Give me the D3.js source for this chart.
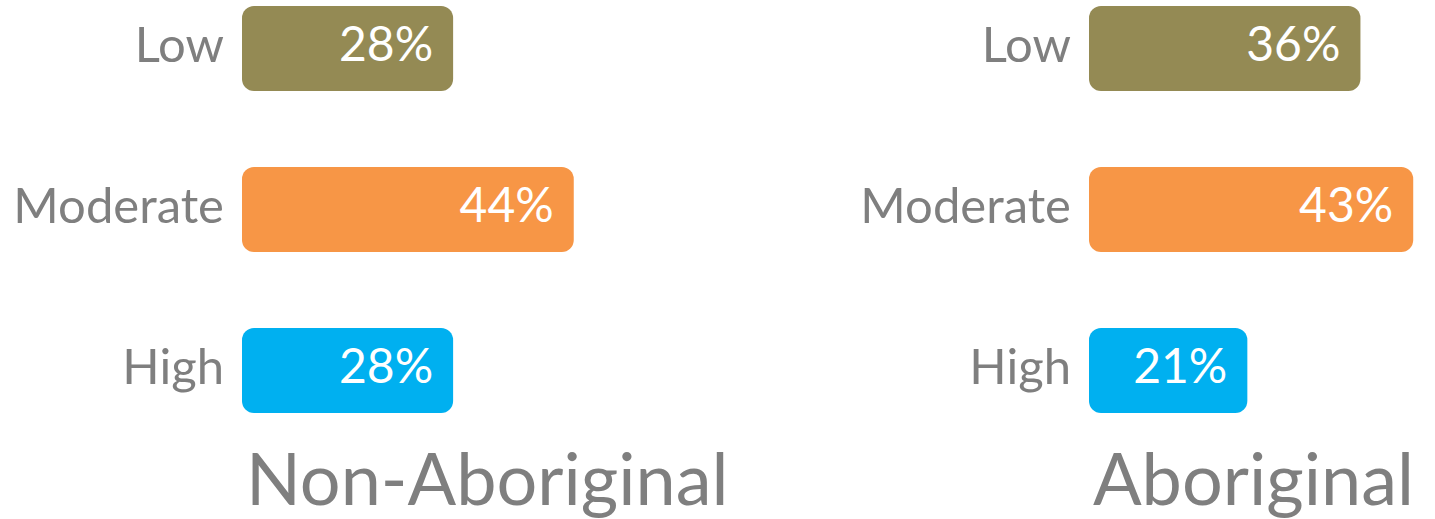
<!DOCTYPE html>
<html>
<head>
<meta charset="utf-8">
<script src="https://cdn.jsdelivr.net/npm/d3@7"></script>
<style>
  body { margin: 0; background: #fff; }
  text { font-family: Lato, "Open Sans", sans-serif; }
</style>
</head>
<body>
<div id="chart"></div>
<script>
// data
const levels = ["Low", "Moderate", "High"];
const groups = ["Non-Aboriginal", "Aboriginal"];
const nonAboriginal = [28, 44, 28];
const aboriginal = [36, 43, 21];
const colors = ["#948A54", "#F79646", "#00B0F0"];

const width = 1435,
    height = 519;

const svg = d3.select("#chart")
    .append("svg")
    .attr("width", width)
    .attr("height", height);

// one px-per-percent scale shared by both panels
const x = d3.scaleLinear()
    .domain([0, 50])
    .range([0, 377]);

const y = d3.scaleBand()
    .domain(levels)
    .range([6, 413])
    .paddingInner(0.472)
    .paddingOuter(0);

const color = d3.scaleOrdinal()
    .domain(levels)
    .range(colors);

const panels = [
    {name: groups[0], values: nonAboriginal, left: 242},
    {name: groups[1], values: aboriginal, left: 1089}
];

panels.forEach(function(p) {
    const g = svg.append("g")
        .attr("transform", `translate(${p.left},0)`);

    const rows = g.selectAll(".row")
        .data(levels.map((l, i) => ({level: l, value: p.values[i]})))
        .enter()
        .append("g")
        .attr("class", "row");

    rows.append("rect")
        .attr("x", 0)
        .attr("y", d => y(d.level))
        .attr("width", d => x(d.value))
        .attr("height", y.bandwidth())
        .attr("rx", 12)
        .attr("ry", 12)
        .style("fill", d => color(d.level));

    // category labels
    rows.append("text")
        .attr("x", -18)
        .attr("y", d => y(d.level) + y.bandwidth() / 2)
        .attr("dy", "0.27em")
        .attr("text-anchor", "end")
        .attr("font-size", "49px")
        .style("fill", "#7F7F7F")
        .text(d => d.level);

    // value labels inside bars
    rows.append("text")
        .attr("x", d => x(d.value) - 20)
        .attr("y", d => y(d.level) + y.bandwidth() / 2)
        .attr("dy", "0.27em")
        .attr("text-anchor", "end")
        .attr("font-size", "48px")
        .style("fill", "#fff")
        .text(d => d.value + "%");

    // panel title
    g.append("text")
        .attr("x", 4)
        .attr("y", 505)
        .attr("font-size", "72px")
        .style("fill", "#7F7F7F")
        .text(p.name);
});
</script>
</body>
</html>
